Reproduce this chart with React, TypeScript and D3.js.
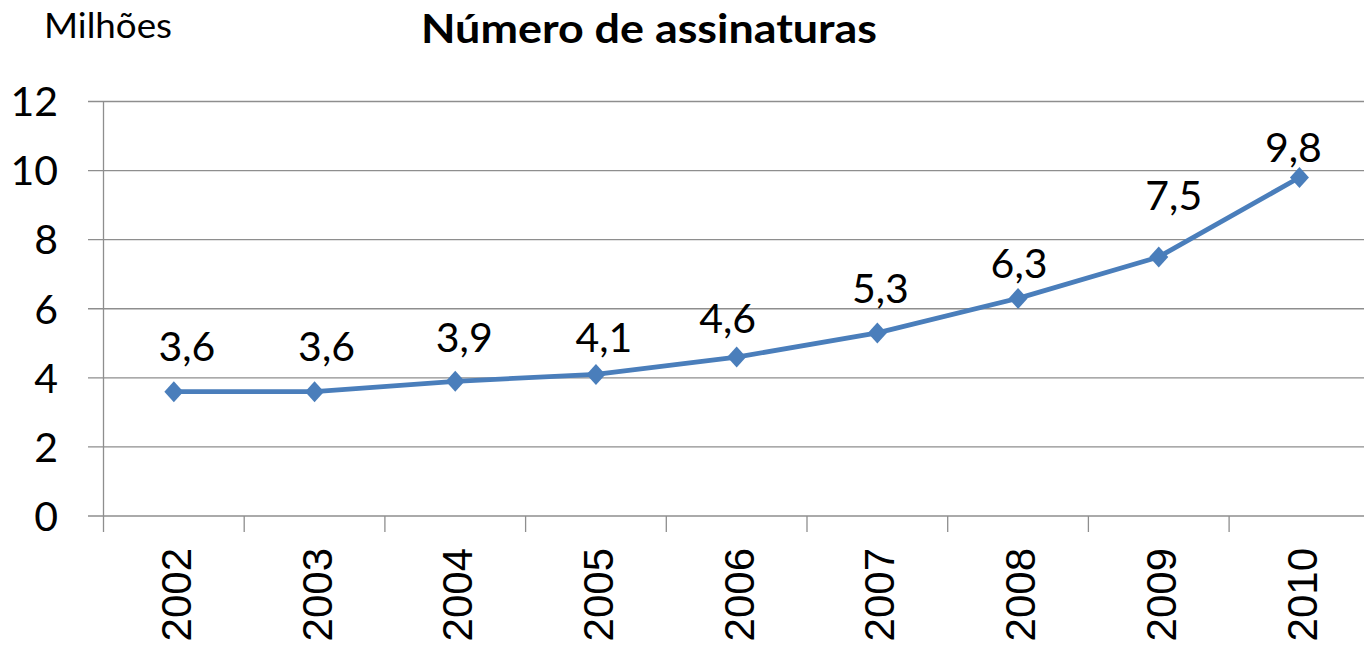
import React from "react";
import * as d3 from "d3";

const years = ["2002", "2003", "2004", "2005", "2006", "2007", "2008", "2009", "2010"];
const subscriptions = [3.6, 3.6, 3.9, 4.1, 4.6, 5.3, 6.3, 7.5, 9.8];
const yTicks = [0, 2, 4, 6, 8, 10, 12];
// manual label nudges (px) relative to each point: [dx, dy of baseline]
const labelNudge: [number, number][] = [
  [13, -31], [12, -31], [9, -29], [8, -22], [-9, -24], [3, -30], [1, -20], [15, -47], [-6, -15],
];

const W = 1364;
const H = 645;
const left = 103.5;
const bandW = 140.7;
const top = 101.5;
const bottom = 516;

export default function App() {
  const x = d3.scaleBand<string>().domain(years).range([left, left + bandW * years.length]).padding(0);
  const y = d3.scaleLinear().domain([0, 12]).range([bottom, top]);
  const cx = (d: string) => (x(d) as number) + x.bandwidth() / 2;
  const line = d3
    .line<number>()
    .x((_, i) => cx(years[i]))
    .y((v) => y(v));
  const fmt = (v: number) => v.toFixed(1).replace(".", ",");
  const boundaries = years.map((d) => x(d) as number).concat([left + bandW * years.length]);
  const font = "Lato, 'Open Sans', sans-serif";
  const col = "#4A7EBB";
  const diamond = (px: number, py: number) =>
    `M${px},${py - 10.5}L${px + 9.5},${py}L${px},${py + 10.5}L${px - 9.5},${py}Z`;

  return (
    <svg width={W} height={H} style={{ position: "absolute", left: 0, top: 0, background: "#fff" }}>
      <text x={44} y={38} fontFamily={font} fontSize={35} fill="#000" textLength={128} lengthAdjust="spacingAndGlyphs">
        Milhões
      </text>
      <text x={421} y={43} fontFamily={font} fontWeight="bold" fontSize={41} fill="#000" textLength={456} lengthAdjust="spacingAndGlyphs">
        Número de assinaturas
      </text>
      {yTicks.map((t) => (
        <g key={t}>
          <line x1={88} x2={W} y1={y(t)} y2={y(t)} stroke="#8e8e8e" strokeWidth={1.3} />
          <text x={58} y={y(t)} dy="0.36em" textAnchor="end" fontFamily={font} fontSize={41} fill="#000">
            {t}
          </text>
        </g>
      ))}
      <line x1={left} x2={left} y1={top} y2={bottom} stroke="#8e8e8e" strokeWidth={1.3} />
      {boundaries.map((b, i) => (
        <line key={i} x1={b} x2={b} y1={bottom} y2={bottom + 16} stroke="#8e8e8e" strokeWidth={1.3} />
      ))}
      {years.map((d) => (
        <text
          key={d}
          transform={`translate(${cx(d) + 2},548) rotate(-90)`}
          dy="0.36em"
          textAnchor="end"
          fontFamily="'Liberation Sans', Arial, sans-serif"
          fontSize={42}
          fill="#000"
        >
          {d}
        </text>
      ))}
      <path d={line(subscriptions) as string} fill="none" stroke={col} strokeWidth={4.8} strokeLinejoin="round" />
      {subscriptions.map((v, i) => (
        <path key={i} d={diamond(cx(years[i]), y(v))} fill={col} />
      ))}
      {subscriptions.map((v, i) => (
        <text
          key={"l" + i}
          x={cx(years[i]) + labelNudge[i][0]}
          y={y(v) + labelNudge[i][1]}
          textAnchor="middle"
          fontFamily={font}
          fontSize={41}
          fill="#000"
        >
          {fmt(v)}
        </text>
      ))}
    </svg>
  );
}
